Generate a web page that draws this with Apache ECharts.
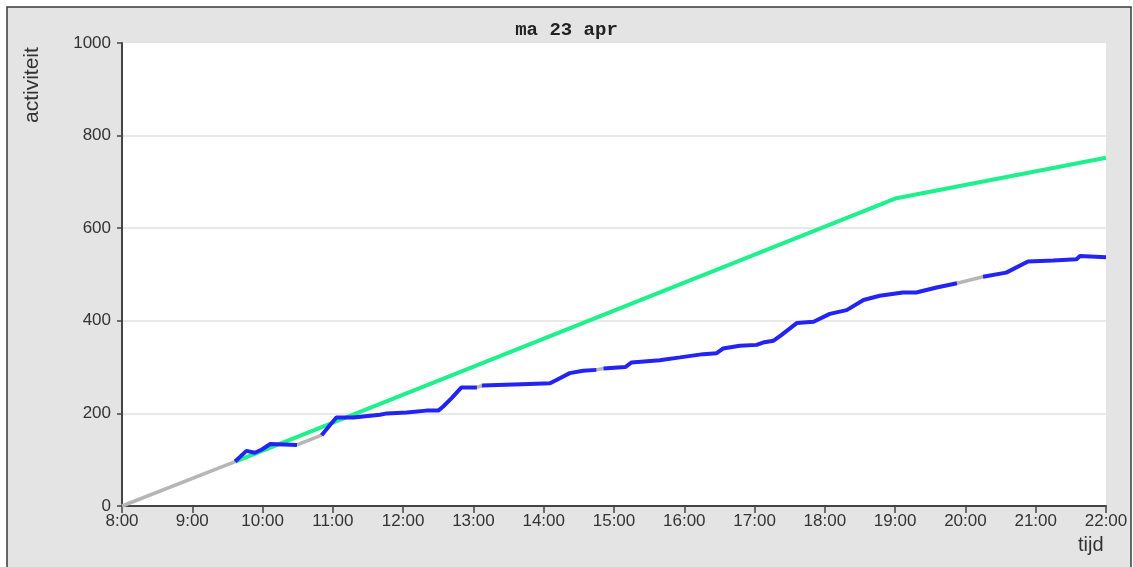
<!DOCTYPE html>
<html>
<head>
<meta charset="utf-8">
<script src="https://cdn.jsdelivr.net/npm/echarts@6/dist/echarts.min.js"></script>
<style>
html,body{margin:0;padding:0;background:#fff;}
#chart{width:1133px;height:567px;}
</style>
</head>
<body>
<div id="chart"></div>
<script>
// Time in decimal hours, activity values
const xTickLabels = ['8:00','9:00','10:00','11:00','12:00','13:00','14:00','15:00','16:00','17:00','18:00','19:00','20:00','21:00','22:00'];
const yTicks = [0, 200, 400, 600, 800, 1000];

const targetTimes  = [9.61, 19.0, 22.0];
const targetValues = [96, 664, 752];

const actualTimes = [8.0, 9.61, 9.77, 9.89, 9.99, 10.11, 10.49, 10.84, 10.96, 11.05, 11.29, 11.67, 11.77, 12.05, 12.33, 12.50, 12.57, 12.69, 12.83, 13.05, 13.12, 13.69, 14.09, 14.23, 14.37, 14.56, 14.75, 14.85, 15.16, 15.25, 15.65, 15.94, 16.27, 16.46, 16.55, 16.79, 17.03, 17.12, 17.27, 17.38, 17.60, 17.84, 18.07, 18.31, 18.55, 18.78, 19.11, 19.30, 19.59, 19.88, 20.25, 20.58, 20.89, 21.25, 21.58, 21.63, 22.0];
const actualValues = [0, 96, 119, 115, 122, 134, 132, 153, 175, 191, 191, 197, 200, 202, 206, 206, 215, 233, 256, 256, 260, 263, 265, 276, 287, 292, 294, 297, 300, 310, 315, 321, 328, 330, 340, 346, 348, 353, 357, 369, 395, 398, 415, 423, 445, 454, 461, 461, 472, 481, 495, 504, 528, 530, 533, 540, 537];
// segment index i (from point i to i+1) drawn grey = missing data
const gapSegments = [0, 6, 19, 26, 49];

const blueData = [], greyData = [];
for (let i = 0; i < actualTimes.length - 1; i++) {
  const a = [actualTimes[i], actualValues[i]];
  const b = [actualTimes[i + 1], actualValues[i + 1]];
  const isGap = gapSegments.includes(i);
  const target = isGap ? greyData : blueData;
  const other = isGap ? blueData : greyData;
  const last = target[target.length - 1];
  if (!last || last[0] !== a[0]) target.push(a);
  target.push(b);
  if (other.length && other[other.length - 1] !== null) other.push(null);
}
const greenData = targetTimes.map((t, i) => [t, targetValues[i]]);

const FONT = '"Liberation Sans", Arial, sans-serif';
const chart = echarts.init(document.getElementById('chart'));
chart.setOption({
  animation: false,
  backgroundColor: '#ffffff',
  graphic: [
    { type: 'rect', z: -10, shape: { x: 7, y: 7, width: 1124, height: 565 },
      style: { fill: '#e4e4e4', stroke: '#3a3a3a', lineWidth: 1.5 } },
    { type: 'text', rotation: Math.PI / 2, position: [22, 123],
      style: { text: 'activiteit', font: '21px ' + FONT, fill: '#333' } },
    { type: 'text', position: [1078, 535],
      style: { text: 'tijd', font: '20px ' + FONT, fill: '#333' } }
  ],
  title: {
    text: 'ma 23 apr', left: 'center', top: 16,
    textStyle: { fontFamily: '"Liberation Mono", "DejaVu Sans Mono", monospace', fontSize: 19, fontWeight: 'bold', color: '#222' }
  },
  grid: { left: 122, right: 27, top: 43, bottom: 61, show: true, backgroundColor: '#ffffff', borderWidth: 0 },
  xAxis: {
    type: 'value', min: 8, max: 22, interval: 1,
    axisLine: { show: true, lineStyle: { color: '#444', width: 2 } },
    axisTick: { show: true, length: 7, lineStyle: { color: '#444', width: 1.5 } },
    axisLabel: { formatter: v => xTickLabels[v - 8], fontSize: 17, color: '#333', margin: 7, fontFamily: FONT },
    splitLine: { show: false }
  },
  yAxis: {
    type: 'value', min: yTicks[0], max: yTicks[yTicks.length - 1], interval: 200,
    axisLine: { show: true, lineStyle: { color: '#444', width: 2 } },
    axisTick: { show: true, length: 5, lineStyle: { color: '#444', width: 1.5 } },
    axisLabel: { formatter: v => String(v), fontSize: 17, color: '#333', margin: 11, fontFamily: FONT },
    splitLine: { show: true, lineStyle: { color: ['rgba(0,0,0,0)', '#e2e2e2', '#e2e2e2', '#e2e2e2', '#e2e2e2', 'rgba(0,0,0,0)'], width: 1.5 } }
  },
  series: [
    { type: 'line', data: greenData, showSymbol: false, z: 2,
      lineStyle: { color: '#1ef08c', width: 4 } },
    { type: 'line', data: greyData, showSymbol: false, connectNulls: false, z: 3,
      lineStyle: { color: '#b6b6b6', width: 3.5 } },
    { type: 'line', data: blueData, showSymbol: false, connectNulls: false, z: 4,
      lineStyle: { color: '#2323f5', width: 4 } }
  ]
});
</script>
</body>
</html>
